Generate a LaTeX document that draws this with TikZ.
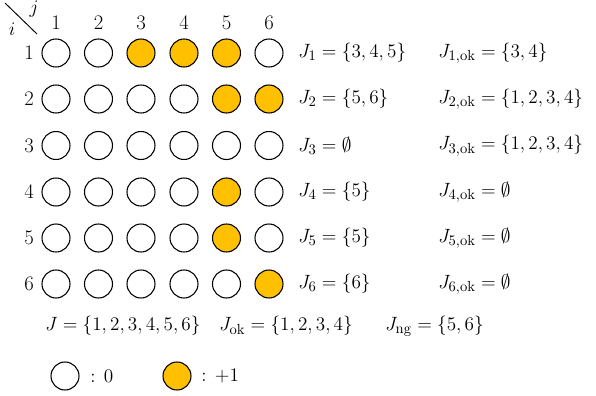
\documentclass[tikz,border=0pt]{standalone}
\usepackage{tikz}
\usetikzlibrary{positioning}

\definecolor{okorange}{HTML}{FFC000}
\newcommand{\bigtext}{\fontsize{15.5}{19}\selectfont}
\tikzset{
  cell/.style={draw,circle,line width=0.8pt,minimum size=21pt,inner sep=0pt},
  hit/.style={cell,fill=okorange},
  lbl/.style={font=\bigtext,inner sep=1pt},
  settext/.style={font=\bigtext,anchor=west,inner sep=0pt}
}

\begin{document}
\begin{tikzpicture}[x=0.75pt,y=-0.75pt]
\useasboundingbox (0,0) rectangle (596,396);
% corner
\coordinate (d0) at (5,3);
\coordinate (d1) at (37,34);
\draw[line width=0.7pt] (d0) -- (d1);
\node[lbl] (jj) at (34,9) {$j$};
\node[lbl] (ii) at (12,29) {$i$};
% column and row numbers
\node[lbl] (k1) at (56,23) {1};
\node[lbl] (k2) at (98.5,23) {2};
\node[lbl] (k3) at (141,23) {3};
\node[lbl] (k4) at (184,23) {4};
\node[lbl] (k5) at (226.5,23) {5};
\node[lbl] (k6) at (269,23) {6};
\node[lbl] (r1) at (29,53) {1};
\node[lbl] (r2) at (29,99) {2};
\node[lbl] (r3) at (29,145.5) {3};
\node[lbl] (r4) at (29,192) {4};
\node[lbl] (r5) at (29,238) {5};
\node[lbl] (r6) at (29,284) {6};
% row 1
\node[cell] (c11) at (56,53) {};
\node[cell] (c12) at (98.5,53) {};
\node[hit] (c13) at (141,53) {};
\node[hit] (c14) at (184,53) {};
\node[hit] (c15) at (226.5,53) {};
\node[cell] (c16) at (269,53) {};
% row 2
\node[cell] (c21) at (56,99) {};
\node[cell] (c22) at (98.5,99) {};
\node[cell] (c23) at (141,99) {};
\node[cell] (c24) at (184,99) {};
\node[hit] (c25) at (226.5,99) {};
\node[hit] (c26) at (269,99) {};
% row 3
\node[cell] (c31) at (56,145.5) {};
\node[cell] (c32) at (98.5,145.5) {};
\node[cell] (c33) at (141,145.5) {};
\node[cell] (c34) at (184,145.5) {};
\node[cell] (c35) at (226.5,145.5) {};
\node[cell] (c36) at (269,145.5) {};
% row 4
\node[cell] (c41) at (56,192) {};
\node[cell] (c42) at (98.5,192) {};
\node[cell] (c43) at (141,192) {};
\node[cell] (c44) at (184,192) {};
\node[hit] (c45) at (226.5,192) {};
\node[cell] (c46) at (269,192) {};
% row 5
\node[cell] (c51) at (56,238) {};
\node[cell] (c52) at (98.5,238) {};
\node[cell] (c53) at (141,238) {};
\node[cell] (c54) at (184,238) {};
\node[hit] (c55) at (226.5,238) {};
\node[cell] (c56) at (269,238) {};
% row 6
\node[cell] (c61) at (56,284) {};
\node[cell] (c62) at (98.5,284) {};
\node[cell] (c63) at (141,284) {};
\node[cell] (c64) at (184,284) {};
\node[cell] (c65) at (226.5,284) {};
\node[hit] (c66) at (269,284) {};
% sets per row
\node[settext] (s1) at (298,53) {$J_1=\{3,4,5\}$};
\node[settext] (s2) at (298,99) {$J_2=\{5,6\}$};
\node[settext] (s3) at (298,145.5) {$J_3=\emptyset$};
\node[settext] (s4) at (298,192) {$J_4=\{5\}$};
\node[settext] (s5) at (298,238) {$J_5=\{5\}$};
\node[settext] (s6) at (298,284) {$J_6=\{6\}$};
\node[settext] (ok1) at (438,53) {$J_{1,\mathrm{ok}}=\{3,4\}$};
\node[settext] (ok2) at (438,99) {$J_{2,\mathrm{ok}}=\{1,2,3,4\}$};
\node[settext] (ok3) at (438,145.5) {$J_{3,\mathrm{ok}}=\{1,2,3,4\}$};
\node[settext] (ok4) at (438,192) {$J_{4,\mathrm{ok}}=\emptyset$};
\node[settext] (ok5) at (438,238) {$J_{5,\mathrm{ok}}=\emptyset$};
\node[settext] (ok6) at (438,284) {$J_{6,\mathrm{ok}}=\emptyset$};
% totals
\node[settext] (tall) at (45,326) {$J=\{1,2,3,4,5,6\}$};
\node[settext] (tok) at (219,326) {$J_{\mathrm{ok}}=\{1,2,3,4\}$};
\node[settext] (tng) at (385,326) {$J_{\mathrm{ng}}=\{5,6\}$};
% legend
\node[cell] (l0) at (65,376) {};
\node[settext] (l0t) at (90,376) {$:\,0$};
\node[hit] (l1) at (177,376) {};
\node[settext] (l1t) at (201,376) {$:\,+1$};
\end{tikzpicture}
\end{document}
